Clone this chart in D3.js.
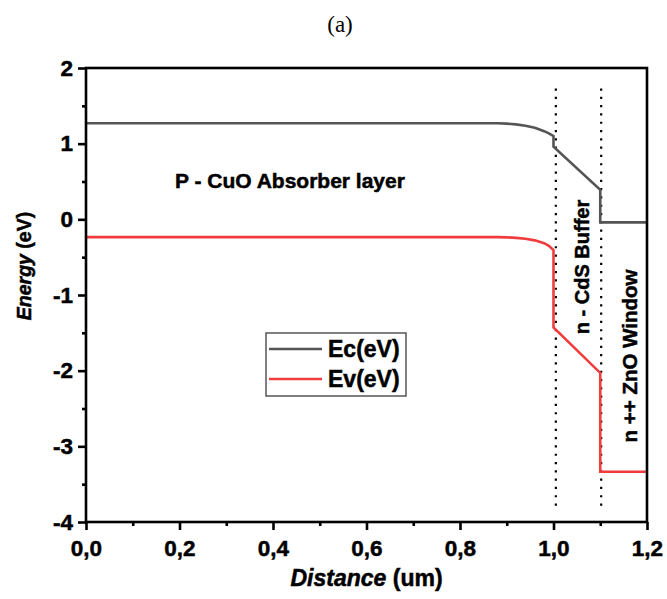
<!DOCTYPE html>
<html>
<head>
<meta charset="utf-8">
<script src="https://cdn.jsdelivr.net/npm/d3@7"></script>
<style>
  html, body { margin: 0; padding: 0; background: #fff; }
  svg { display: block; font-family: "Liberation Sans", Arial, sans-serif; }
  .heavy { font-weight: bold; stroke: #000; stroke-width: 0.5px; fill: #000; }
</style>
</head>
<body>
<svg id="chart" width="667" height="599"></svg>
<script>
// Band diagram of the CuO / CdS / ZnO stack
const distance = [0, 0.85, 0.88, 0.90, 0.92, 0.94, 0.96, 0.98, 0.99, 1.00, 1.00, 1.10, 1.10, 1.20];
const ecValues = [1.27, 1.27, 1.27, 1.265, 1.255, 1.237, 1.21, 1.165, 1.135, 1.10, 0.96, 0.39, -0.04, -0.04];
const evValues = [-0.235, -0.235, -0.235, -0.238, -0.245, -0.257, -0.278, -0.315, -0.35, -0.405, -1.43, -2.03, -3.335, -3.335];
const seriesNames = ["Ec(eV)", "Ev(eV)"];
const seriesColors = ["#555555", "#f03c3c"];
const interfaces = [1.005, 1.102];
const xTicks = [0, 0.2, 0.4, 0.6, 0.8, 1.0, 1.2];
const xMinorTicks = [0.1, 0.3, 0.5, 0.7, 0.9, 1.1];
const yTicks = [-4, -3, -2, -1, 0, 1, 2];
const yMinorTicks = [-3.5, -2.5, -1.5, -0.5, 0.5, 1.5];

const svg = d3.select("#chart");
const plotL = 86, plotR = 647, plotT = 68, plotB = 522;
const x = d3.scaleLinear().domain([0, 1.2]).range([plotL, plotR]);
const y = d3.scaleLinear().domain([-4, 2]).range([plotB, plotT]);
const fmtX = v => d3.format(".1f")(v).replace(".", ",");
const fmtY = v => String(v);

// title
svg.append("text").attr("x", 340).attr("y", 32).attr("text-anchor", "middle")
  .attr("font-family", "'Liberation Serif', 'Times New Roman', serif").attr("font-size", 23)
  .text("(a)");

// layer boundaries
svg.selectAll("line.iface").data(interfaces).join("line")
  .attr("class", "iface")
  .attr("x1", d => x(d)).attr("x2", d => x(d))
  .attr("y1", y(1.73)).attr("y2", y(-3.8))
  .attr("stroke", "#000").attr("stroke-width", 2.2)
  .attr("stroke-dasharray", "2.2 6.1");

// band edges
const series = [ecValues, evValues];
const line = d3.line().x((d, i) => x(distance[i])).y(d => y(d));
svg.selectAll("path.band").data(series).join("path")
  .attr("class", "band")
  .attr("d", d => line(d))
  .attr("fill", "none")
  .attr("stroke", (d, i) => seriesColors[i])
  .attr("stroke-width", 2.6)
  .attr("stroke-linejoin", "miter");

// frame
svg.append("rect").attr("x", plotL).attr("y", plotT)
  .attr("width", plotR - plotL).attr("height", plotB - plotT)
  .attr("fill", "none").attr("stroke", "#000").attr("stroke-width", 2.6);

// axes
const xAxis = svg.append("g").attr("transform", `translate(0,${plotB})`)
  .call(d3.axisBottom(x).tickValues(xTicks).tickFormat(fmtX).tickSize(8).tickPadding(8));
svg.append("g").attr("transform", `translate(0,${plotB})`)
  .call(d3.axisBottom(x).tickValues(xMinorTicks).tickFormat("").tickSize(4))
  .call(g => g.select(".domain").remove());
const yAxis = svg.append("g").attr("transform", `translate(${plotL},0)`)
  .call(d3.axisLeft(y).tickValues(yTicks).tickFormat(fmtY).tickSize(8).tickPadding(5));
svg.append("g").attr("transform", `translate(${plotL},0)`)
  .call(d3.axisLeft(y).tickValues(yMinorTicks).tickFormat("").tickSize(4))
  .call(g => g.select(".domain").remove());

svg.selectAll(".domain").remove();
svg.selectAll(".tick line").attr("stroke", "#000").attr("stroke-width", 2.6);
svg.selectAll(".tick text").attr("class", "heavy")
  .attr("font-family", "'Liberation Sans', Arial, sans-serif")
  .attr("font-size", 22.5);
xAxis.selectAll(".tick text").attr("y", 18);

// axis titles
const xt = svg.append("text").attr("class", "heavy")
  .attr("x", (plotL + plotR) / 2).attr("y", 586)
  .attr("text-anchor", "middle").attr("font-size", 23);
xt.append("tspan").attr("font-style", "italic").text("Distance");
xt.append("tspan").text(" (um)");

const yt = svg.append("text").attr("class", "heavy")
  .attr("transform", "translate(31,266) rotate(-90)")
  .attr("text-anchor", "middle").attr("font-size", 19.5);
yt.append("tspan").attr("font-style", "italic").text("Energy");
yt.append("tspan").text(" (eV)");

// layer labels
svg.append("text").attr("class", "heavy").attr("x", 175).attr("y", 188)
  .attr("font-size", 21).text("P - CuO Absorber layer");
svg.append("text").attr("class", "heavy")
  .attr("transform", "translate(589,267) rotate(-90)")
  .attr("text-anchor", "middle").attr("font-size", 20)
  .text("n - CdS Buffer");
svg.append("text").attr("class", "heavy")
  .attr("transform", "translate(637,356) rotate(-90)")
  .attr("text-anchor", "middle").attr("font-size", 20.5)
  .text("n ++ ZnO Window");

// legend
const legend = svg.append("g");
legend.append("rect").attr("x", 266).attr("y", 333).attr("width", 140).attr("height", 63)
  .attr("fill", "#fff").attr("stroke", "#555").attr("stroke-width", 1.5);
const items = legend.selectAll("g.item").data(seriesNames).join("g")
  .attr("class", "item")
  .attr("transform", (d, i) => `translate(0,${349 + i * 30})`);
items.append("line").attr("x1", 269).attr("x2", 322)
  .attr("stroke", (d, i) => seriesColors[i]).attr("stroke-width", 2.6);
items.append("text").attr("class", "heavy").attr("x", 328).attr("y", 8)
  .attr("font-size", 23).text(d => d);
</script>
</body>
</html>
